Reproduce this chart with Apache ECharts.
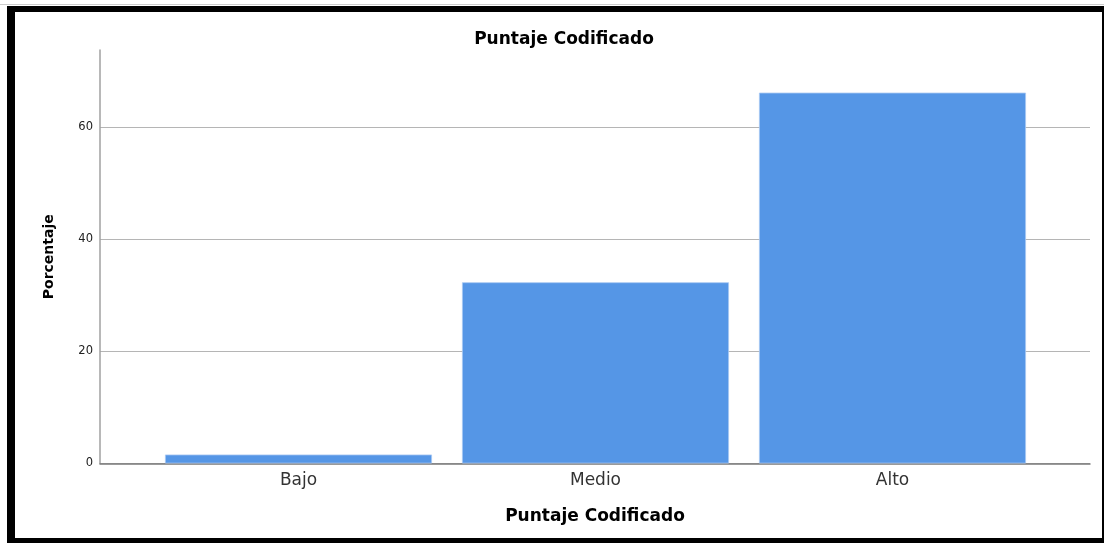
<!DOCTYPE html>
<html>
<head>
<meta charset="utf-8">
<script src="https://cdn.jsdelivr.net/npm/echarts@6/dist/echarts.min.js"></script>
<style>
html,body{margin:0;padding:0;background:#fff;}
#wrap{position:relative;width:1104px;height:543px;overflow:hidden;}
#chart{position:absolute;left:0;top:0;width:1104px;height:543px;}
#frame{position:absolute;left:7px;top:6px;width:1097px;height:537px;box-sizing:border-box;
border-left:8px solid #000;border-top:6px solid #000;border-bottom:5px solid #000;border-right:2px solid #000;pointer-events:none;}
#shade{position:absolute;left:0;top:4px;width:1104px;height:1px;background:#ccc;}
</style>
</head>
<body>
<div id="wrap">
<div id="chart"></div>
<div id="shade"></div>
<div id="frame"></div>
</div>
<script>
const chartTitle = 'Puntaje Codificado';
const xAxisName = 'Puntaje Codificado';
const yAxisName = 'Porcentaje';
const categories = ['Bajo', 'Medio', 'Alto'];
const percentages = [1.6, 32.3, 66.1];
const yMin = 0;
const yMax = 73.7;
const yInterval = 20;

const chart = echarts.init(document.getElementById('chart'), null, {renderer: 'canvas'});
const gridLine = '#b5b5b5';
chart.setOption({
  animation: false,
  backgroundColor: '#fff',
  title: {
    text: chartTitle,
    left: 559,
    textAlign: 'center',
    top: 26,
    textStyle: {fontFamily: 'DejaVu Sans', fontWeight: 'bold', fontSize: 17, color: '#000'}
  },
  grid: [
    {left: 100, right: 14, top: 50, bottom: 79.5},
    {left: 150, right: 63, top: 50, bottom: 79.5}
  ],
  xAxis: [
    {
      gridIndex: 0, type: 'value', min: 0, max: 1,
      axisLine: {show: true, lineStyle: {color: '#7a7a7a', width: 1.5}},
      axisTick: {show: false}, axisLabel: {show: false}, splitLine: {show: false},
      name: xAxisName, nameLocation: 'middle', nameGap: 45,
      nameTextStyle: {fontFamily: 'DejaVu Sans', fontWeight: 'bold', fontSize: 17, color: '#000'}
    },
    {
      gridIndex: 1, type: 'category', data: categories,
      axisLine: {show: false}, axisTick: {show: false},
      axisLabel: {margin: 9, fontFamily: 'DejaVu Sans', fontSize: 17, color: '#333'}
    }
  ],
  yAxis: [
    {
      gridIndex: 0, type: 'value', min: yMin, max: yMax, interval: yInterval,
      axisLine: {show: true, lineStyle: {color: '#a0a0a0', width: 1.5}},
      axisTick: {show: false},
      axisLabel: {margin: 7, showMaxLabel: false, fontFamily: 'DejaVu Sans', fontSize: 11.5, color: '#222'},
      splitLine: {show: true, lineStyle: {color: [gridLine, gridLine, gridLine, gridLine, 'rgba(0,0,0,0)'], width: 1}},
      name: yAxisName, nameLocation: 'middle', nameGap: 44, nameRotate: 90,
      nameTextStyle: {fontFamily: 'DejaVu Sans', fontWeight: 'bold', fontSize: 14, color: '#000'}
    },
    {
      gridIndex: 1, type: 'value', min: yMin, max: yMax, show: false, splitLine: {show: false}
    }
  ],
  series: [{
    type: 'bar',
    xAxisIndex: 1, yAxisIndex: 1,
    data: percentages,
    barWidth: 267,
    itemStyle: {color: '#5596e6', borderColor: '#a8c8f2', borderWidth: 0.8}
  }]
});
</script>
</body>
</html>
